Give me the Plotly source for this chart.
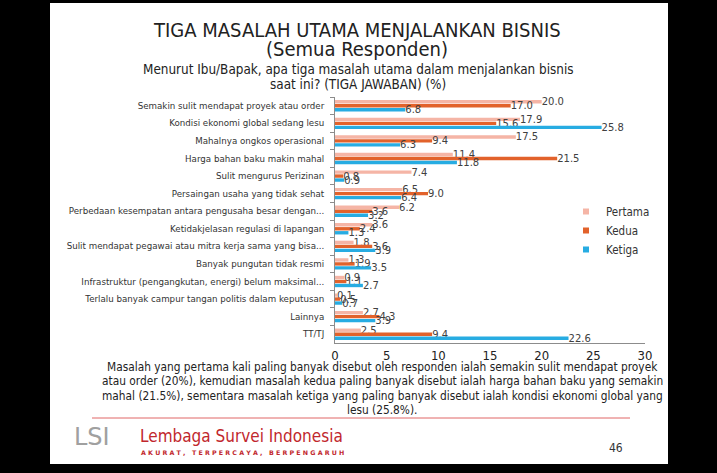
import plotly.graph_objects as go

categories = [
    "Semakin sulit mendapat proyek atau order",
    "Kondisi ekonomi global sedang lesu",
    "Mahalnya ongkos operasional",
    "Harga bahan baku makin mahal",
    "Sulit mengurus Perizinan",
    "Persaingan usaha yang tidak sehat",
    "Perbedaan kesempatan antara pengusaha besar dengan...",
    "Ketidakjelasan regulasi di lapangan",
    "Sulit mendapat pegawai atau mitra kerja sama yang bisa...",
    "Banyak pungutan tidak resmi",
    "Infrastruktur (pengangkutan, energi) belum maksimal...",
    "Terlalu banyak campur tangan politis dalam keputusan",
    "Lainnya",
    "TT/TJ",
]
pertama = [20.0, 17.9, 17.5, 11.4, 7.4, 6.5, 6.2, 3.6, 1.8, 1.3, 0.9, 0.1, 2.7, 2.5]
kedua   = [17.0, 15.6, 9.4, 21.5, 0.8, 9.0, 3.6, 2.4, 3.6, 1.9, 1.1, 0.5, 4.3, 9.4]
ketiga  = [6.8, 25.8, 6.3, 11.8, 0.9, 6.4, 3.2, 1.3, 3.9, 3.5, 2.7, 0.7, 3.9, 22.6]
series_names = ["Pertama", "Kedua", "Ketiga"]
series_colors = ["#F5B5A6", "#E2622B", "#27ACE2"]
x_ticks = [0, 5, 10, 15, 20, 25, 30]

W, H = 717, 473
L, R, T, B = 335, 645, 97, 343
COND = "DejaVu Sans Condensed, sans-serif"


def px(x):
    return (x - L) / (R - L)


def py(y):
    return (B - y) / (B - T)


fig = go.Figure()
for name, vals, col in zip(series_names, [pertama, kedua, ketiga], series_colors):
    fig.add_trace(go.Bar(
        y=categories, x=vals, orientation="h", name=name,
        marker=dict(color=col, line=dict(width=0)),
        text=[f"{v:.1f}" for v in vals], textposition="outside",
        constraintext="none",
        textfont=dict(family="DejaVu Sans", size=10, color="#404040"),
        cliponaxis=False, showlegend=False,
    ))
for name, col in zip(series_names, series_colors):
    fig.add_trace(go.Scatter(
        x=[None], y=[None], mode="markers", name=name,
        marker=dict(symbol="square", size=6, color=col),
    ))

shapes = [
    dict(type="rect", xref="paper", yref="paper",
         x0=px(50), x1=px(668), y0=py(464), y1=py(3),
         fillcolor="white", line=dict(width=0), layer="below"),
    dict(type="line", xref="paper", yref="paper",
         x0=px(92), x1=px(630), y0=py(418), y1=py(418),
         line=dict(color="#E06666", width=1)),
]

ann = []
def add_text(text, x, y, size, color="#222", family=COND, xanchor="center", **kw):
    ann.append(dict(text=text, x=px(x), y=py(y), xref="paper", yref="paper",
                    showarrow=False, xanchor=xanchor, yanchor="middle",
                    font=dict(size=size, color=color, family=family), **kw))

add_text("TIGA MASALAH UTAMA MENJALANKAN BISNIS", 357, 30, 20)
add_text("(Semua Responden)", 357, 49, 20)
add_text("Menurut Ibu/Bapak, apa tiga masalah utama dalam menjalankan bisnis", 358, 69, 13.4)
add_text("saat ini? (TIGA JAWABAN) (%)", 358, 85, 13.4)
note_lines = [
    "Masalah yang pertama kali paling banyak disebut oleh responden ialah semakin sulit mendapat proyek",
    "atau order (20%), kemudian masalah kedua paling banyak disebut ialah harga bahan baku yang semakin",
    "mahal (21.5%), sementara masalah ketiga yang paling banyak disebut ialah kondisi ekonomi global yang",
    "lesu (25.8%).",
]
for i, line in enumerate(note_lines):
    add_text(line, 382, 367 + i * 14.3, 11.8)
add_text("LSI", 72, 437, 24, color="#A0A0A0", family="DejaVu Sans", xanchor="left")
add_text("Lembaga Survei Indonesia", 138, 436, 17, color="#C1272D",
         family=COND, xanchor="left")
add_text("<b>" + " ".join("AKURAT, TERPERCAYA, BERPENGARUH") + "</b>", 139, 452, 6.3,
         color="#C1272D", family="DejaVu Sans", xanchor="left")
add_text("46", 616, 448, 12, color="#333")

fig.update_layout(
    width=W, height=H,
    margin=dict(l=L, r=W - R, t=T, b=H - B, pad=0),
    paper_bgcolor="black", plot_bgcolor="rgba(0,0,0,0)",
    barmode="group", bargap=0.32, bargroupgap=0.15,
    shapes=shapes, annotations=ann,
    showlegend=True,
    legend=dict(x=px(566), y=py(197), xanchor="left", yanchor="top",
                font=dict(family=COND, size=11.5, color="#333"),
                bgcolor="rgba(0,0,0,0)", traceorder="normal",
                itemwidth=30, tracegroupgap=0),
    xaxis=dict(range=[0, 30], tickvals=x_ticks, showgrid=False, zeroline=False,
               showline=True, linecolor="#8c8c8c", linewidth=1, ticks="",
               automargin=False,
               tickfont=dict(family=COND, size=13, color="#222")),
    yaxis=dict(autorange="reversed", showgrid=False, showline=True,
               linecolor="#8c8c8c", linewidth=1, ticks="outside", ticklen=4,
               tickcolor="#8c8c8c", tickson="boundaries", automargin=False,
               ticklabelstandoff=8,
               tickfont=dict(family="DejaVu Sans", size=8.7, color="#333")),
    font=dict(family=COND),
)

fig.write_html(
    "out.html",
    config={"displayModeBar": False},
    post_script="document.body.style.margin='0';document.body.style.background='black';",
)
